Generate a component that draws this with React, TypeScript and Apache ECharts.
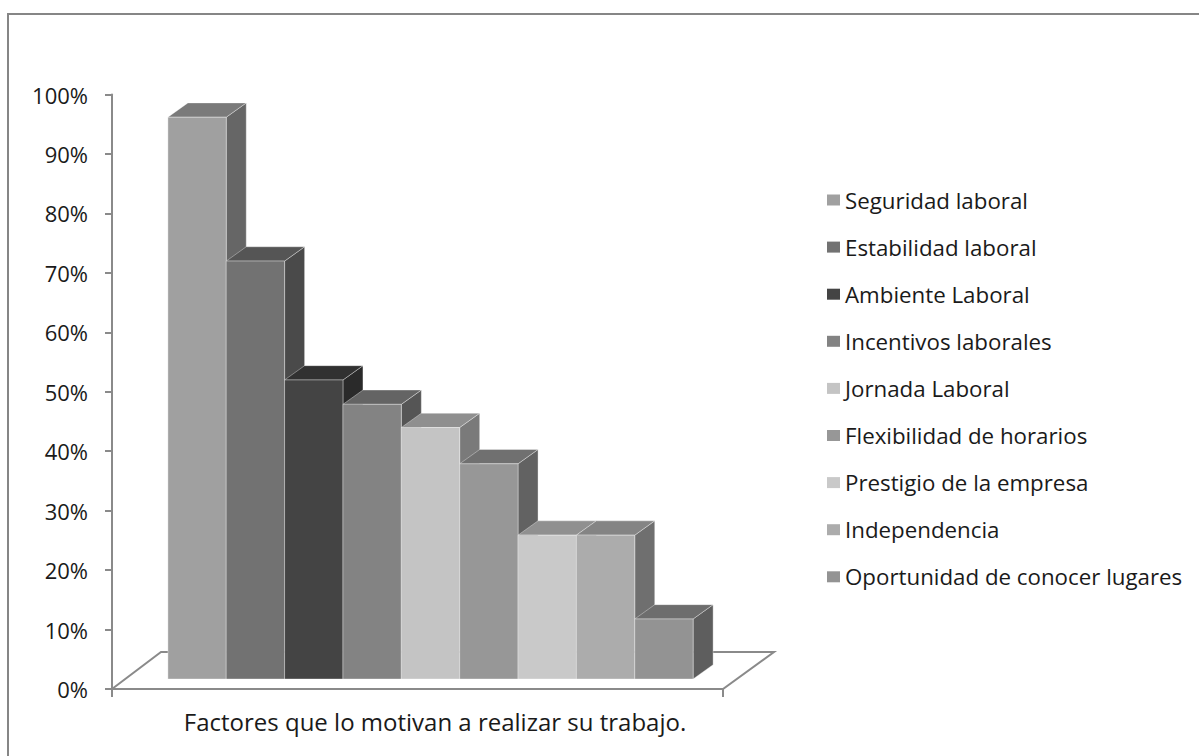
import React, { useEffect, useRef } from "react";
import * as echarts from "echarts";

const categories = [
  "Seguridad laboral",
  "Estabilidad laboral",
  "Ambiente Laboral",
  "Incentivos laborales",
  "Jornada Laboral",
  "Flexibilidad de horarios",
  "Prestigio de la empresa",
  "Independencia",
  "Oportunidad de conocer lugares",
];
const values = [94.5, 70.3, 50.3, 46.2, 42.3, 36.2, 24.2, 24.2, 10.1];
const xCategory = ["Factores que lo motivan a realizar su trabajo."];
const yTicks = [0, 10, 20, 30, 40, 50, 60, 70, 80, 90, 100];

const frontColors = ["#a0a0a0", "#727272", "#444444", "#838383", "#c4c4c4", "#979797", "#c9c9c9", "#acacac", "#939393"];
const topColors = ["#7a7a7a", "#555555", "#313131", "#646464", "#8f8f8f", "#707070", "#909090", "#848484", "#6d6d6d"];
const sideColors = ["#666666", "#4a4a4a", "#2a2a2a", "#555555", "#7a7a7a", "#626262", "#7c7c7c", "#6f6f6f", "#5e5e5e"];

const FONT = "'Open Sans', 'Noto Sans', sans-serif";
const N = categories.length;
const GAP = 1.47; // gap width in bar units
const FX = 13; // front plane offset of bars
const FY = -10;
const DX = 20; // bar depth
const DY = -14.3;
const FLX = 49; // floor depth
const FLY = -37;

export default function App() {
  const ref = useRef<HTMLDivElement>(null);
  useEffect(() => {
    if (!ref.current) return;
    const chart = echarts.init(ref.current, null, { renderer: "svg" });

    const floorSeries: any = {
      type: "custom",
      name: "floor",
      silent: true,
      z: 1,
      data: [[0, 0]],
      renderItem: (params: any, api: any) => {
        const base = api.coord([api.value(0), 0]);
        const band = api.size([1, 0])[0];
        const l = base[0] - band / 2;
        const r = base[0] + band / 2;
        const y = base[1];
        return {
          type: "polygon",
          shape: { points: [[l, y], [l + FLX, y + FLY], [r + FLX + 2, y + FLY], [r, y]] },
          style: { fill: "#ffffff", stroke: "#8a8a8a", lineWidth: 2 },
        };
      },
    };

    const barSeries = categories.map((name, i) => ({
      type: "custom",
      name,
      z: 2,
      itemStyle: { color: frontColors[i] },
      data: [[0, values[i]]],
      renderItem: (params: any, api: any) => {
        const base = api.coord([api.value(0), 0]);
        const top = api.coord([api.value(0), api.value(1)]);
        const band = api.size([1, 0])[0];
        const bw = band / (N + GAP);
        const x0 = base[0] - (N * bw) / 2 + i * bw + FX;
        const x1 = x0 + bw;
        const yb = base[1] + FY;
        const yt = top[1] + FY;
        const edge = "rgba(255,255,255,0.35)";
        return {
          type: "group",
          children: [
            {
              type: "polygon",
              shape: { points: [[x1, yt], [x1 + DX, yt + DY], [x1 + DX, yb + DY], [x1, yb]] },
              style: { fill: sideColors[i], stroke: edge, lineWidth: 1 },
            },
            {
              type: "polygon",
              shape: { points: [[x0, yt], [x0 + DX, yt + DY], [x1 + DX, yt + DY], [x1, yt]] },
              style: { fill: topColors[i], stroke: edge, lineWidth: 1 },
            },
            {
              type: "rect",
              shape: { x: x0, y: yt, width: bw, height: yb - yt },
              style: { fill: frontColors[i], stroke: edge, lineWidth: 1 },
            },
          ],
        };
      },
    }));

    chart.setOption({
      animation: false,
      backgroundColor: "#ffffff",
      textStyle: { fontFamily: FONT },
      graphic: [
        {
          type: "rect",
          shape: { x: 8, y: 14, width: 1300, height: 900 },
          style: { fill: "none", stroke: "#868686", lineWidth: 2 },
          silent: true,
          z: 0,
        },
      ],
      grid: { left: 112, top: 94.5, right: 476, bottom: 67 },
      legend: {
        data: categories,
        orient: "vertical",
        left: 822,
        top: 184,
        icon: "rect",
        itemWidth: 13,
        itemHeight: 11,
        itemGap: 25.1,
        textStyle: { fontFamily: FONT, fontSize: 22.3, color: "#1a1a1a", padding: [0, 0, 0, 0] },
      },
      xAxis: {
        type: "category",
        data: xCategory,
        axisLine: { lineStyle: { color: "#8a8a8a", width: 2 } },
        axisTick: { show: true, length: 8, lineStyle: { color: "#8a8a8a", width: 2 } },
        axisLabel: { fontFamily: FONT, fontSize: 24, color: "#1a1a1a", margin: 20, padding: [0, 0, 0, 35] },
        splitLine: { show: false },
      },
      yAxis: {
        type: "value",
        min: yTicks[0],
        max: yTicks[yTicks.length - 1],
        interval: 10,
        axisLine: { show: true, lineStyle: { color: "#8a8a8a", width: 2 } },
        axisTick: { show: true, length: 7, lineStyle: { color: "#8a8a8a", width: 2 } },
        axisLabel: { fontFamily: FONT, fontSize: 22, color: "#1a1a1a", margin: 24, formatter: "{value}%" },
        splitLine: { show: false },
      },
      series: [floorSeries, ...barSeries],
    });
    return () => chart.dispose();
  }, []);
  return (
    <div
      ref={ref}
      style={{ position: "fixed", left: 0, top: 0, width: 1199, height: 756, background: "#fff" }}
    />
  );
}
